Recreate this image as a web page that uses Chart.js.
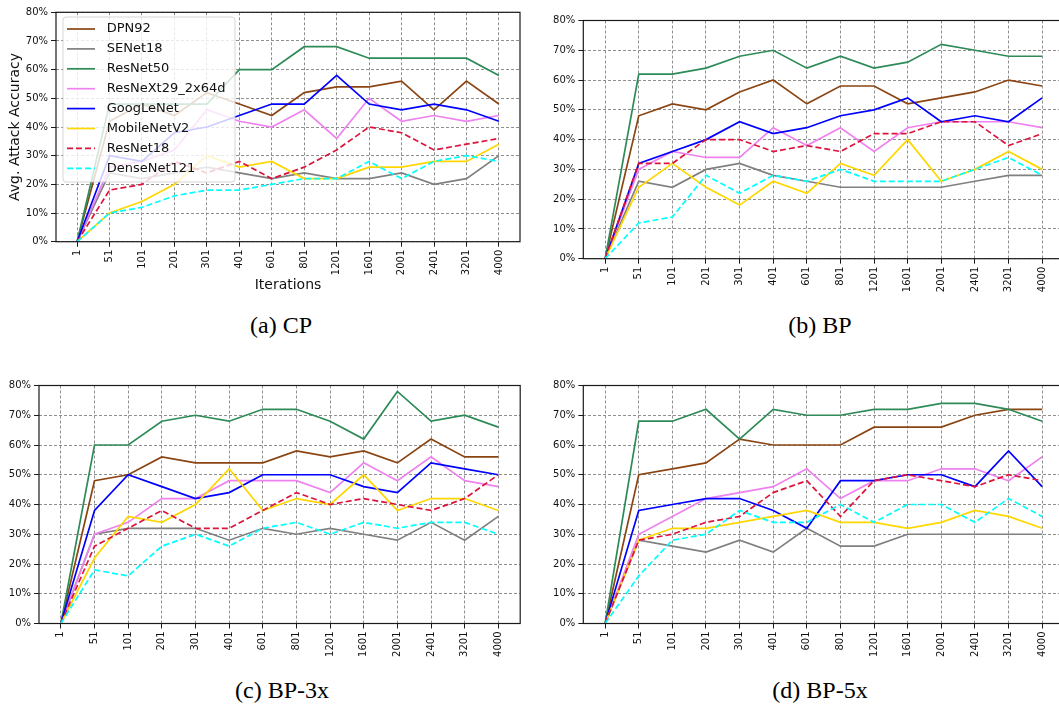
<!DOCTYPE html>
<html>
<head>
<meta charset="utf-8">
<script src="https://cdn.jsdelivr.net/npm/chart.js@4.4.0/dist/chart.umd.min.js"></script>
<style>
  html, body { margin: 0; padding: 0; background: #fff; }
  body { position: relative; width: 1059px; height: 711px; overflow: hidden; }
  canvas { position: absolute; }
  .cap {
    position: absolute; width: 200px; text-align: center;
    font-family: "Liberation Serif", "Times New Roman", serif;
    font-size: 24px; line-height: 24px; color: #000;
  }
</style>
</head>
<body>
<canvas id="cp" width="540" height="300" style="left:0px;top:0px"></canvas>
<canvas id="bp" width="550" height="300" style="left:530px;top:0px"></canvas>
<canvas id="bp3" width="540" height="300" style="left:0px;top:365px"></canvas>
<canvas id="bp5" width="550" height="300" style="left:530px;top:365px"></canvas>
<div class="cap" style="left:181px;top:313px">(a) CP</div>
<div class="cap" style="left:720px;top:313px">(b) BP</div>
<div class="cap" style="left:182px;top:678px">(c) BP-3x</div>
<div class="cap" style="left:720px;top:678px">(d) BP-5x</div>
<script>
// Iteration checkpoints on the x axis
const iterations = ['1', '51', '101', '201', '301', '401', '601', '801', '1201', '1601', '2001', '2401', '3201', '4000'];

// Victim models, in plotting order
const models = ['DPN92', 'SENet18', 'ResNet50', 'ResNeXt29_2x64d', 'GoogLeNet', 'MobileNetV2', 'ResNet18', 'DenseNet121'];
const modelColors = ['#8B4513', '#808080', '#2E8B57', '#EE82EE', '#0000FF', '#FFD700', '#DC143C', '#00FFFF'];
const modelDashed = [false, false, false, false, false, false, true, true];

// Y-axis ticks (percent)
const yTicks = [0, 10, 20, 30, 40, 50, 60, 70, 80];

// Attack accuracy (%) per model, rows follow `models`
const cpValues = [
  [0, 42, 48, 44, 52, 48, 44, 52, 54, 54, 56, 46, 56, 48], // DPN92
  [0, 24, 22, 24, 26, 24, 22, 24, 22, 22, 24, 20, 22, 30], // SENet18
  [0, 48, 48, 48, 48, 60, 60, 68, 68, 64, 64, 64, 64, 58], // ResNet50
  [0, 26, 28, 32, 46, 42, 40, 46, 36, 50, 42, 44, 42, 44], // ResNeXt29_2x64d
  [0, 30, 28, 38, 40, 44, 48, 48, 58, 48, 46, 48, 46, 42], // GoogLeNet
  [0, 10, 14, 20, 30, 26, 28, 22, 22, 26, 26, 28, 28, 34], // MobileNetV2
  [0, 18, 20, 28, 24, 28, 22, 26, 32, 40, 38, 32, 34, 36], // ResNet18
  [0, 10, 12, 16, 18, 18, 20, 22, 22, 28, 22, 28, 30, 28]  // DenseNet121
];
const bpValues = [
  [0, 48, 52, 50, 56, 60, 52, 58, 58, 52, 54, 56, 60, 58],
  [0, 26, 24, 30, 32, 28, 26, 24, 24, 24, 24, 26, 28, 28],
  [0, 62, 62, 64, 68, 70, 64, 68, 64, 66, 72, 70, 68, 68],
  [0, 30, 36, 34, 34, 44, 38, 44, 36, 44, 46, 46, 46, 44],
  [0, 32, 36, 40, 46, 42, 44, 48, 50, 54, 46, 48, 46, 54],
  [0, 24, 32, 24, 18, 26, 22, 32, 28, 40, 26, 30, 36, 30],
  [0, 32, 32, 40, 40, 36, 38, 36, 42, 42, 46, 46, 38, 42],
  [0, 12, 14, 28, 22, 28, 26, 30, 26, 26, 26, 30, 34, 28]
];
const bp3Values = [
  [0, 48, 50, 56, 54, 54, 54, 58, 56, 58, 54, 62, 56, 56],
  [0, 30, 32, 32, 32, 28, 32, 30, 32, 30, 28, 34, 28, 36],
  [0, 60, 60, 68, 70, 68, 72, 72, 68, 62, 78, 68, 70, 66],
  [0, 30, 34, 42, 42, 48, 48, 48, 44, 54, 48, 56, 48, 46],
  [0, 38, 50, 46, 42, 44, 50, 50, 50, 46, 44, 54, 52, 50],
  [0, 22, 36, 34, 40, 52, 38, 42, 40, 50, 38, 42, 42, 38],
  [0, 26, 32, 38, 32, 32, 38, 44, 40, 42, 40, 38, 42, 50],
  [0, 18, 16, 26, 30, 26, 32, 34, 30, 34, 32, 34, 34, 30]
];
const bp5Values = [
  [0, 50, 52, 54, 62, 60, 60, 60, 66, 66, 66, 70, 72, 72],
  [0, 28, 26, 24, 28, 24, 32, 26, 26, 30, 30, 30, 30, 30],
  [0, 68, 68, 72, 62, 72, 70, 70, 72, 72, 74, 74, 72, 68],
  [0, 30, 36, 42, 44, 46, 52, 42, 48, 48, 52, 52, 48, 56],
  [0, 38, 40, 42, 42, 38, 32, 48, 48, 50, 50, 46, 58, 46],
  [0, 28, 32, 32, 34, 36, 38, 34, 34, 32, 34, 38, 36, 32],
  [0, 28, 30, 34, 36, 44, 48, 36, 48, 50, 48, 46, 50, 48],
  [0, 16, 28, 30, 38, 34, 34, 40, 34, 40, 40, 34, 42, 36]
];

const FONT = '"DejaVu Sans", "Liberation Sans", sans-serif';
const TEXT = '#111';

// Frame around the plot area, plus the optional in-plot legend box
const decorPlugin = {
  id: 'panelDecor',
  afterDatasetsDraw(chart, args, opts) {
    const ctx = chart.ctx;
    const a = chart.chartArea;
    ctx.save();
    ctx.strokeStyle = '#1a1a1a';
    ctx.lineWidth = 1.2;
    ctx.setLineDash([]);
    ctx.strokeRect(a.left, a.top, a.right - a.left, a.bottom - a.top);
    ctx.restore();

    if (!opts.legend) return;
    const bx = a.left + 7, by = a.top + 4.7, bw = 172, bh = 165, r = 3;
    ctx.save();
    ctx.globalAlpha = 0.8;
    ctx.beginPath();
    ctx.moveTo(bx + r, by);
    ctx.lineTo(bx + bw - r, by);
    ctx.arcTo(bx + bw, by, bx + bw, by + r, r);
    ctx.lineTo(bx + bw, by + bh - r);
    ctx.arcTo(bx + bw, by + bh, bx + bw - r, by + bh, r);
    ctx.lineTo(bx + r, by + bh);
    ctx.arcTo(bx, by + bh, bx, by + bh - r, r);
    ctx.lineTo(bx, by + r);
    ctx.arcTo(bx, by, bx + r, by, r);
    ctx.closePath();
    ctx.fillStyle = '#ffffff';
    ctx.fill();
    ctx.strokeStyle = '#cccccc';
    ctx.lineWidth = 1;
    ctx.stroke();
    ctx.globalAlpha = 1;
    ctx.font = '13px ' + FONT;
    ctx.textBaseline = 'middle';
    ctx.textAlign = 'left';
    chart.data.datasets.forEach((ds, i) => {
      const cy = by + 12 + i * 19.9;
      ctx.strokeStyle = ds.borderColor;
      ctx.lineWidth = ds.borderWidth;
      ctx.setLineDash(ds.borderDash || []);
      ctx.beginPath();
      ctx.moveTo(bx + 4, cy);
      ctx.lineTo(bx + 32, cy);
      ctx.stroke();
      ctx.setLineDash([]);
      ctx.fillStyle = TEXT;
      ctx.fillText(ds.label, bx + 43.7, cy);
    });
    ctx.restore();
  }
};

function makePanel(p) {
  const datasets = models.map((name, i) => ({
    label: name,
    data: p.values[i].map((v, k) => ({ x: k, y: v })),
    borderColor: modelColors[i],
    backgroundColor: modelColors[i],
    borderWidth: 1.7,
    borderDash: modelDashed[i] ? [6, 3] : [],
    pointRadius: 0,
    tension: 0,
    fill: false,
    order: models.length - i
  }));

  const gridCommon = {
    color: '#8f8f8f',
    lineWidth: 1,
    drawTicks: true,
    tickLength: 5,
    tickColor: '#1a1a1a',
    tickWidth: 1,
    tickBorderDash: []
  };

  new Chart(document.getElementById(p.id), {
    type: 'line',
    data: { datasets },
    plugins: [decorPlugin],
    options: {
      responsive: false,
      animation: false,
      devicePixelRatio: 1,
      layout: { padding: { top: p.padTop, right: p.padRight, left: 0, bottom: 0 } },
      plugins: {
        legend: { display: false },
        tooltip: { enabled: false },
        panelDecor: { legend: p.legend }
      },
      scales: {
        x: {
          type: 'linear',
          min: -0.65,
          max: iterations.length - 1 + 0.65,
          afterBuildTicks: s => { s.ticks = iterations.map((_, k) => ({ value: k })); },
          afterFit: s => { s.height = p.xAxisH; },
          grid: gridCommon,
          border: { display: false, dash: [3, 2] },
          ticks: {
            autoSkip: false,
            minRotation: 90,
            maxRotation: 90,
            padding: 3,
            color: TEXT,
            font: { family: FONT, size: 10 },
            callback: v => iterations[v]
          },
          title: {
            display: p.titles,
            text: 'Iterations',
            color: TEXT,
            font: { family: FONT, size: 14 },
            padding: { top: 0, bottom: 6.6 }
          }
        },
        y: {
          min: 0,
          max: 80,
          afterBuildTicks: s => { s.ticks = yTicks.map(v => ({ value: v })); },
          afterFit: s => { s.width = p.yAxisW; },
          grid: gridCommon,
          border: { display: false, dash: [3, 2] },
          ticks: {
            padding: 3,
            color: TEXT,
            font: { family: FONT, size: 10 },
            callback: v => v + '%'
          },
          title: {
            display: p.titles,
            text: 'Avg. Attack Accuracy',
            color: TEXT,
            font: { family: FONT, size: 14 },
            padding: { top: 6.6, bottom: 0 }
          }
        }
      }
    }
  });
}

makePanel({ id: 'cp',  values: cpValues,  yAxisW: 56,   xAxisH: 58.3, padTop: 12.3, padRight: 20,   legend: true,  titles: true });
makePanel({ id: 'bp',  values: bpValues,  yAxisW: 53.3, xAxisH: 41.3, padTop: 20.5, padRight: 16,   legend: false, titles: false });
makePanel({ id: 'bp3', values: bp3Values, yAxisW: 39,   xAxisH: 41.5, padTop: 20.5, padRight: 19.8, legend: false, titles: false });
makePanel({ id: 'bp5', values: bp5Values, yAxisW: 53.3, xAxisH: 41.5, padTop: 20.5, padRight: 16,   legend: false, titles: false });
</script>
</body>
</html>
